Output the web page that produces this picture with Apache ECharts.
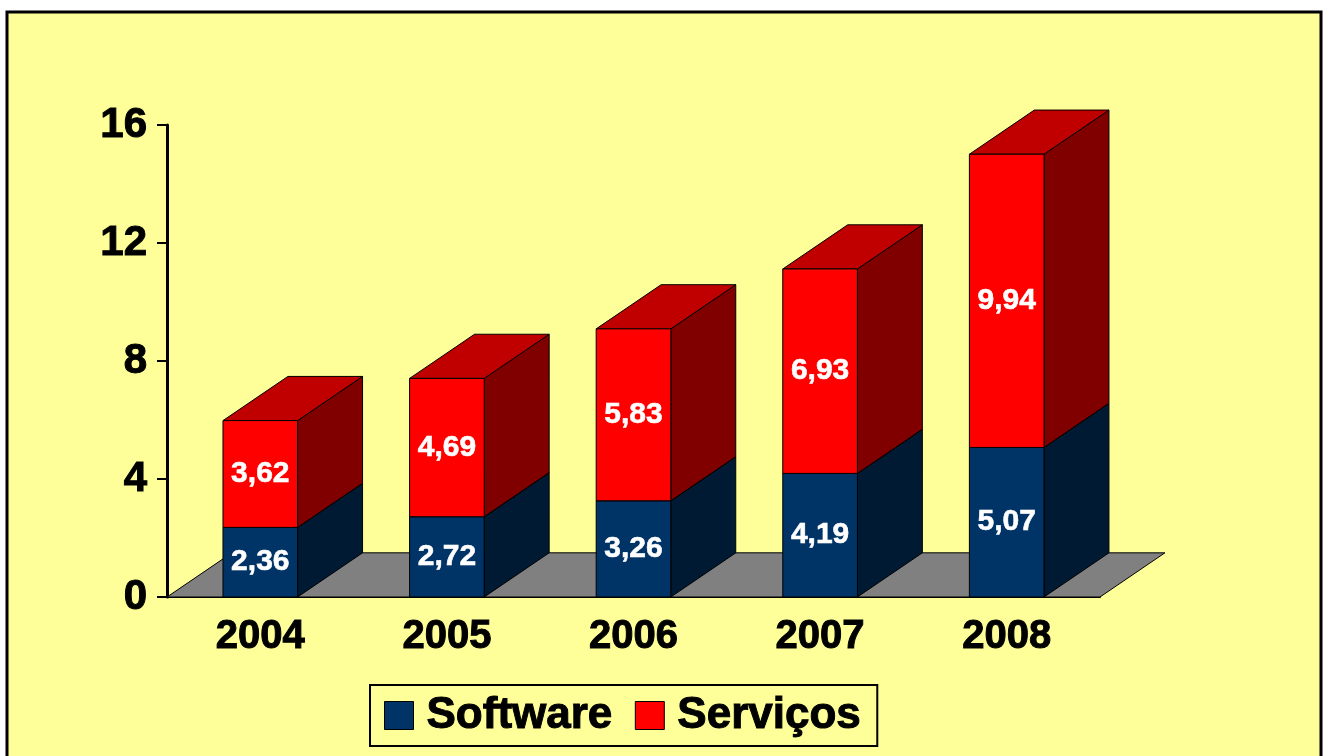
<!DOCTYPE html>
<html>
<head>
<meta charset="utf-8">
<script src="https://cdn.jsdelivr.net/npm/echarts@6/dist/echarts.min.js"></script>
<style>
  html, body { margin: 0; padding: 0; background: #fff; }
  #chart { width: 1323px; height: 756px; }
</style>
</head>
<body>
<div id="chart"></div>
<script>
var myChart = echarts.init(document.getElementById('chart'));

// dados
var anos = ['2004', '2005', '2006', '2007', '2008'];
var software = [2.36, 2.72, 3.26, 4.19, 5.07];
var servicos = [3.62, 4.69, 5.83, 6.93, 9.94];
var yTicks = [0, 4, 8, 12, 16];

var FONT = "'Liberation Sans', Arial, sans-serif";

// cores das faces: frente, lado, topo
var cores = {
    Software: ['#003366', '#001A33', '#00264D'],
    'Serviços': ['#FF0000', '#800000', '#C00000']
};

function fmt(v) {
    return v.toFixed(2).replace('.', ',');
}

// profundidade 3D relativa à largura da categoria
function profundidade(bw) {
    var dx = bw * 0.348;
    return [dx, dx * 0.68];
}

function renderBarra(params, api) {
    var i = api.value(0), lo = api.value(1), hi = api.value(2), v = api.value(3);
    var bw = api.size([1, 0])[0];
    var w = bw * 0.4;
    var p0 = api.coord([i, lo]);
    var p1 = api.coord([i, hi]);
    var d = profundidade(bw);
    var xl = p0[0] - w / 2, xr = p0[0] + w / 2;
    var yb = p0[1], yt = p1[1];
    var c = cores[params.seriesName];
    var linha = { stroke: '#000', lineWidth: 1 };
    return {
        type: 'group',
        children: [
            {
                type: 'polygon',
                shape: { points: [[xr, yb], [xr + d[0], yb - d[1]], [xr + d[0], yt - d[1]], [xr, yt]] },
                style: Object.assign({ fill: c[1] }, linha)
            },
            {
                type: 'polygon',
                shape: { points: [[xl, yt], [xr, yt], [xr + d[0], yt - d[1]], [xl + d[0], yt - d[1]]] },
                style: Object.assign({ fill: c[2] }, linha)
            },
            {
                type: 'rect',
                shape: { x: xl, y: yt, width: w, height: yb - yt },
                style: Object.assign({ fill: c[0] }, linha)
            },
            {
                type: 'text',
                x: p0[0], y: (yb + yt) / 2,
                style: {
                    text: fmt(v), fill: '#fff', font: 'bold 30px ' + FONT,
                    stroke: '#fff', lineWidth: 0.6,
                    align: 'center', verticalAlign: 'middle'
                }
            }
        ]
    };
}

// chão cinzento
function renderChao(params, api) {
    var cs = params.coordSys;
    var d = profundidade(api.size([1, 0])[0]);
    var yb = cs.y + cs.height;
    return {
        type: 'polygon',
        shape: { points: [[cs.x, yb], [cs.x + cs.width, yb], [cs.x + cs.width + d[0], yb - d[1]], [cs.x + d[0], yb - d[1]]] },
        style: { fill: '#808080', stroke: '#000', lineWidth: 1 }
    };
}

var dadosSoft = software.map(function (v, i) { return [i, 0, v, v]; });
var dadosServ = servicos.map(function (v, i) { return [i, software[i], software[i] + v, v]; });

var option = {
    backgroundColor: '#ffffff',
    animation: false,
    graphic: [{
        type: 'rect',
        z: -10,
        silent: true,
        shape: { x: 7, y: 12, width: 1314, height: 760 },
        style: { fill: '#FFFF99', stroke: '#000', lineWidth: 3 }
    }],
    grid: { left: 167, right: 223, top: 125, bottom: 159 },
    legend: {
        left: 370, top: 685,
        data: ['Software', 'Serviços'],
        icon: 'rect',
        itemWidth: 29, itemHeight: 28,
        itemGap: 22,
        padding: [8, 16, 8, 14],
        borderColor: '#000', borderWidth: 2,
        itemStyle: { borderColor: '#000', borderWidth: 1 },
        textStyle: {
            color: '#000', fontSize: 44, fontWeight: 'bold', fontFamily: FONT,
            textBorderColor: '#000', textBorderWidth: 1, padding: [0, 0, 0, 8]
        }
    },
    xAxis: {
        type: 'category',
        data: anos,
        axisLine: { lineStyle: { color: '#000', width: 2 } },
        axisTick: { length: 10, lineStyle: { color: '#000', width: 3 } },
        axisLabel: {
            color: '#000', fontSize: 40, fontWeight: 'bold', fontFamily: FONT,
            textBorderColor: '#000', textBorderWidth: 1, margin: 20
        }
    },
    yAxis: {
        type: 'value',
        min: yTicks[0], max: yTicks[yTicks.length - 1], interval: 4,
        splitLine: { show: false },
        axisLine: { show: true, lineStyle: { color: '#000', width: 3 } },
        axisTick: { show: true, length: 10, lineStyle: { color: '#000', width: 2 } },
        axisLabel: {
            color: '#000', fontSize: 42, fontWeight: 'bold', fontFamily: FONT,
            textBorderColor: '#000', textBorderWidth: 1, margin: 20
        }
    },
    series: [
        {
            name: 'chao', type: 'custom', renderItem: renderChao,
            data: [[0]], clip: false, z: 1, silent: true
        },
        {
            name: 'Software', type: 'custom', renderItem: renderBarra,
            itemStyle: { color: '#003366' },
            encode: { x: 0, y: 2 },
            data: dadosSoft, clip: false, z: 2
        },
        {
            name: 'Serviços', type: 'custom', renderItem: renderBarra,
            itemStyle: { color: '#FF0000' },
            encode: { x: 0, y: 2 },
            data: dadosServ, clip: false, z: 3
        }
    ]
};

myChart.setOption(option);
</script>
</body>
</html>
